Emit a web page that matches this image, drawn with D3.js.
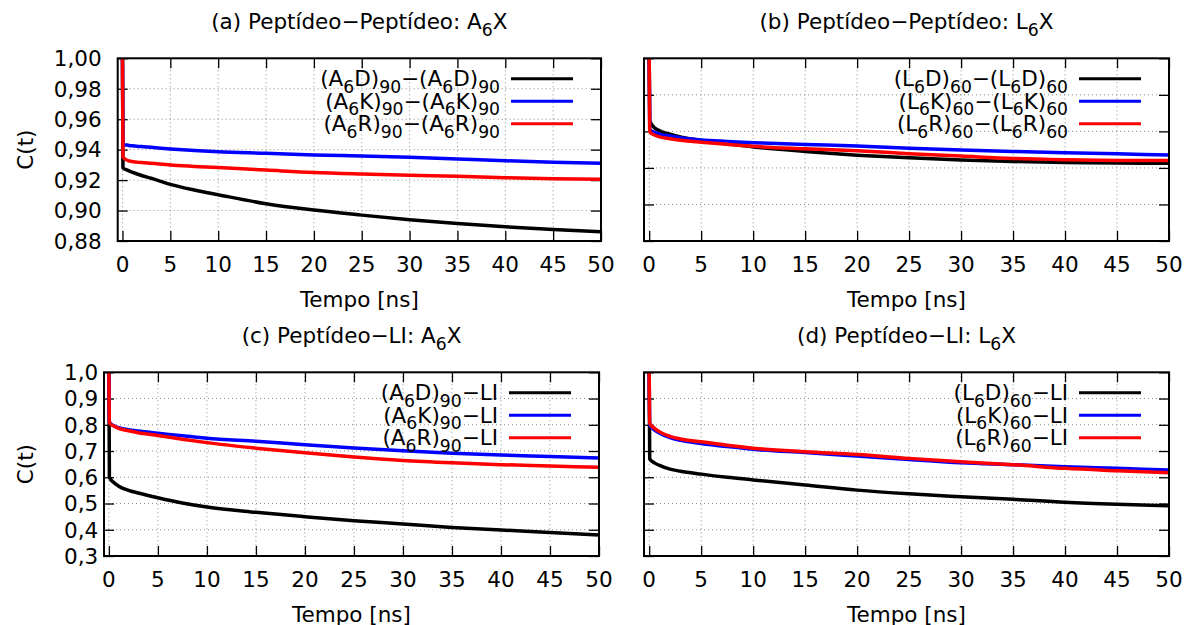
<!DOCTYPE html>
<html><head><meta charset="utf-8">
<script src="https://cdn.jsdelivr.net/npm/d3@7"></script>
<style>
body{margin:0;background:#fff}
svg{display:block}
text{font-family:"DejaVu Sans",Verdana,sans-serif;fill:#000}
</style>
</head><body>
<svg id="chart" width="1188" height="625"></svg>
<script>
// ---------------- DATA ----------------
const time = [0, 0.05, 0.5, 1, 2, 3, 5, 7.5, 10, 15, 20, 25, 30, 35, 40, 45, 50];
const xTicks = [0, 5, 10, 15, 20, 25, 30, 35, 40, 45, 50];
const xTickLabels = ["0","5","10","15","20","25","30","35","40","45","50"];

const yTicksA = [0.88, 0.90, 0.92, 0.94, 0.96, 0.98, 1.00];
const yTickLabelsA = ["0,88","0,90","0,92","0,94","0,96","0,98","1,00"];
const yTicksB = [0.90, 0.92, 0.94, 0.96, 0.98, 1.00];
const yTicksC = [0.3, 0.4, 0.5, 0.6, 0.7, 0.8, 0.9, 1.0];
const yTickLabelsC = ["0,3","0,4","0,5","0,6","0,7","0,8","0,9","1,0"];

// (a) Peptídeo–Peptídeo: A6X
const a_A6D = [1.0, 0.928, 0.9265, 0.9252, 0.9230, 0.9212, 0.9172, 0.9135, 0.9104, 0.9045, 0.9003, 0.8970, 0.8940, 0.8915, 0.8893, 0.8876, 0.8860];
const a_A6K = [1.0, 0.9435, 0.9430, 0.9425, 0.9420, 0.9415, 0.9405, 0.9395, 0.9386, 0.9376, 0.9365, 0.9358, 0.9350, 0.9339, 0.9327, 0.9317, 0.9310];
const a_A6R = [1.0, 0.9353, 0.9330, 0.9322, 0.9315, 0.9310, 0.9299, 0.9290, 0.9282, 0.9266, 0.9250, 0.9240, 0.9232, 0.9225, 0.9216, 0.9209, 0.9205];
// (b) Peptídeo–Peptídeo: L6X
const b_L6D = [1.0, 0.9660, 0.9620, 0.9603, 0.9585, 0.9570, 0.9550, 0.9532, 0.9515, 0.9490, 0.9470, 0.9455, 0.9443, 0.9435, 0.9429, 0.9427, 0.9425];
const b_L6K = [1.0, 0.9610, 0.9595, 0.9585, 0.9575, 0.9565, 0.9553, 0.9545, 0.9538, 0.9528, 0.9520, 0.9508, 0.9498, 0.9490, 0.9483, 0.9477, 0.9471];
const b_L6R = [1.0, 0.9598, 0.9580, 0.9570, 0.9560, 0.9552, 0.9541, 0.9529, 0.9518, 0.9505, 0.9494, 0.9478, 0.9465, 0.9452, 0.9445, 0.9441, 0.9440];
// (c) Peptídeo–LI: A6X
const c_A6D = [1.0, 0.600, 0.580, 0.566, 0.550, 0.540, 0.522, 0.502, 0.4865, 0.4665, 0.4498, 0.4345, 0.422, 0.409, 0.399, 0.390, 0.380];
const c_A6K = [1.0, 0.810, 0.796, 0.789, 0.781, 0.776, 0.768, 0.758, 0.749, 0.737, 0.724, 0.712, 0.701, 0.692, 0.685, 0.679, 0.673];
const c_A6R = [1.0, 0.808, 0.795, 0.786, 0.777, 0.770, 0.759, 0.745, 0.732, 0.711, 0.693, 0.677, 0.664, 0.655, 0.648, 0.643, 0.638];
// (d) Peptídeo–LI: L6X
const d_L6D = [1.0, 0.670, 0.655, 0.645, 0.631, 0.623, 0.612, 0.600, 0.590, 0.5705, 0.551, 0.537, 0.526, 0.516, 0.5045, 0.497, 0.4916];
const d_L6K = [1.0, 0.800, 0.780, 0.768, 0.751, 0.741, 0.729, 0.717, 0.7066, 0.694, 0.681, 0.668, 0.6555, 0.648, 0.640, 0.634, 0.628];
const d_L6R = [1.0, 0.806, 0.787, 0.773, 0.756, 0.746, 0.7355, 0.722, 0.711, 0.6975, 0.6870, 0.672, 0.659, 0.6480, 0.634, 0.625, 0.617];

const seriesColors = ["#000000", "#0000ff", "#ff0000"];

// ---------------- LAYOUT ----------------
const FS = 21.5;
const panels = [
  {box:{l:117.7,r:601,t:58.3,b:241}, ydom:[0.88,1.0], yTicks:yTicksA, yLabels:yTickLabelsA, yLabelX:101.7,
   title:[["(a) Peptídeo−Peptídeo: A",0],["6",1],["X",0]],
   series:[a_A6D,a_A6K,a_A6R],
   legend:[
     [["(A",0],["6",1],["D)",0],["90",1],["−(A",0],["6",1],["D)",0],["90",1]],
     [["(A",0],["6",1],["K)",0],["90",1],["−(A",0],["6",1],["K)",0],["90",1]],
     [["(A",0],["6",1],["R)",0],["90",1],["−(A",0],["6",1],["R)",0],["90",1]]]},
  {box:{l:644,r:1169,t:58.3,b:241}, ydom:[0.90,1.0], yTicks:yTicksB, yLabels:null,
   title:[["(b) Peptídeo−Peptídeo: L",0],["6",1],["X",0]],
   series:[b_L6D,b_L6K,b_L6R],
   legend:[
     [["(L",0],["6",1],["D)",0],["60",1],["−(L",0],["6",1],["D)",0],["60",1]],
     [["(L",0],["6",1],["K)",0],["60",1],["−(L",0],["6",1],["K)",0],["60",1]],
     [["(L",0],["6",1],["R)",0],["60",1],["−(L",0],["6",1],["R)",0],["60",1]]]},
  {box:{l:104,r:599,t:372.3,b:556}, ydom:[0.3,1.0], yTicks:yTicksC, yLabels:yTickLabelsC, yLabelX:98.3,
   title:[["(c) Peptídeo−LI: A",0],["6",1],["X",0]],
   series:[c_A6D,c_A6K,c_A6R],
   legend:[
     [["(A",0],["6",1],["D)",0],["90",1],["−LI",0]],
     [["(A",0],["6",1],["K)",0],["90",1],["−LI",0]],
     [["(A",0],["6",1],["R)",0],["90",1],["−LI",0]]]},
  {box:{l:644,r:1169,t:372.3,b:556}, ydom:[0.3,1.0], yTicks:yTicksC, yLabels:null,
   title:[["(d) Peptídeo−LI: L",0],["6",1],["X",0]],
   series:[d_L6D,d_L6K,d_L6R],
   legend:[
     [["(L",0],["6",1],["D)",0],["60",1],["−LI",0]],
     [["(L",0],["6",1],["K)",0],["60",1],["−LI",0]],
     [["(L",0],["6",1],["R)",0],["60",1],["−LI",0]]]}
];

const svg = d3.select("#chart");
const SUBSHIFT = 6.5;

function rich(sel, segs) {
  let inSub = false;
  segs.forEach(([txt, sub]) => {
    const ts = sel.append("tspan").text(txt);
    if (sub && !inSub) { ts.attr("dy", SUBSHIFT); inSub = true; }
    else if (!sub && inSub) { ts.attr("dy", -SUBSHIFT); inSub = false; }
    if (sub) ts.attr("font-size", FS * 0.8);
  });
}

panels.forEach((p, i) => {
  const {l, r, t, b} = p.box;
  const x = d3.scaleLinear().domain([-0.5, 50]).range([l, r]);
  const y = d3.scaleLinear().domain(p.ydom).range([b, t]);
  const g = svg.append("g");

  // grid
  const grid = g.append("g").attr("stroke", "#8a8a8a").attr("stroke-width", 1).attr("stroke-dasharray", "1,3");
  xTicks.forEach(v => grid.append("line").attr("x1", x(v)).attr("x2", x(v)).attr("y1", t).attr("y2", b));
  p.yTicks.forEach(v => grid.append("line").attr("x1", l).attr("x2", r).attr("y1", y(v)).attr("y2", y(v)));

  // ticks via d3 axes (inward), all four sides
  const tl = 10;
  const axB = g.append("g").attr("transform", `translate(0,${b})`)
    .call(d3.axisTop(x).tickValues(xTicks).tickSize(tl).tickFormat(""));
  const axT = g.append("g").attr("transform", `translate(0,${t})`)
    .call(d3.axisBottom(x).tickValues(xTicks).tickSize(tl).tickFormat(""));
  const axL = g.append("g").attr("transform", `translate(${l},0)`)
    .call(d3.axisRight(y).tickValues(p.yTicks).tickSize(tl).tickFormat(""));
  const axR = g.append("g").attr("transform", `translate(${r},0)`)
    .call(d3.axisLeft(y).tickValues(p.yTicks).tickSize(tl).tickFormat(""));
  [axB, axT, axL, axR].forEach(a => {
    a.select(".domain").remove();
    a.selectAll(".tick line").attr("stroke", "#000").attr("stroke-width", 1.3);
  });

  // x tick labels
  xTicks.forEach((v, k) => {
    g.append("text").attr("x", x(v)).attr("y", b + 30.5).attr("text-anchor", "middle")
      .attr("font-size", FS).text(xTickLabels[k]);
  });
  // y tick labels
  if (p.yLabels) {
    p.yTicks.forEach((v, k) => {
      g.append("text").attr("x", p.yLabelX).attr("y", y(v) + 7.8).attr("text-anchor", "end")
        .attr("font-size", FS).text(p.yLabels[k]);
    });
    g.append("text").attr("transform", `translate(33,${(t + b) / 2}) rotate(-90)`)
      .attr("text-anchor", "middle").attr("font-size", FS).text("C(t)");
  }
  // x axis title
  g.append("text").attr("x", (l + r) / 2).attr("y", b + 66).attr("text-anchor", "middle")
    .attr("font-size", FS).text("Tempo [ns]");
  // panel title
  const tt = g.append("text").attr("x", (l + r) / 2).attr("y", t - 29).attr("text-anchor", "middle")
    .attr("font-size", FS);
  rich(tt, p.title);

  // clip
  const cid = "clip" + i;
  svg.append("clipPath").attr("id", cid).append("rect")
    .attr("x", l).attr("y", t).attr("width", r - l).attr("height", b - t);

  const line = d3.line().x((d, k) => x(time[k])).y(d => y(d)).curve(d3.curveMonotoneX);
  const lg = g.append("g").attr("clip-path", `url(#${cid})`);
  p.series.forEach((s, k) => {
    lg.append("path").datum(s).attr("d", line).attr("fill", "none")
      .attr("stroke", seriesColors[k]).attr("stroke-width", 3.5).attr("stroke-linejoin", "round");
  });

  // legend
  const lx2 = r - 28, lx1 = lx2 - 62;
  p.legend.forEach((segs, k) => {
    const ly = t + 20.5 + k * 22.5;
    const tx = g.append("text").attr("x", lx1 - 11).attr("y", ly + 7.5).attr("text-anchor", "end")
      .attr("font-size", FS);
    rich(tx, segs);
    g.append("line").attr("x1", lx1).attr("x2", lx2).attr("y1", ly).attr("y2", ly)
      .attr("stroke", seriesColors[k]).attr("stroke-width", 3);
  });

  // frame
  g.append("rect").attr("x", l).attr("y", t).attr("width", r - l).attr("height", b - t)
    .attr("fill", "none").attr("stroke", "#000").attr("stroke-width", 2);
});
</script>
</body></html>
